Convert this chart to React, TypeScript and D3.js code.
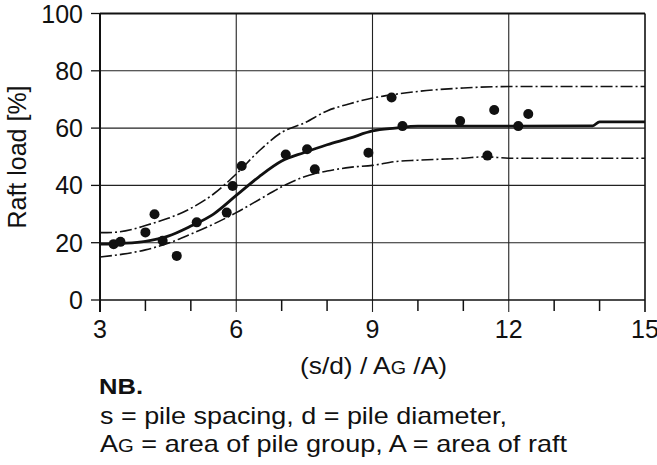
import React from 'react';
import * as d3 from 'd3';

// measured points (s/d)/(AG/A) vs raft load %
const pointX = [3.3, 3.45, 4.0, 4.2, 4.38, 4.69, 5.13, 5.79, 5.92, 6.12, 7.09, 7.56, 7.73, 8.91, 9.42, 9.66, 10.93, 11.53, 11.68, 12.21, 12.43];
const pointY = [19.5, 20.3, 23.6, 29.9, 20.7, 15.4, 27.1, 30.5, 39.8, 46.8, 50.8, 52.6, 45.6, 51.4, 70.7, 60.7, 62.5, 50.4, 66.3, 60.7, 64.9];

// mean curve
const meanX = [3, 3.5, 4, 4.5, 5, 5.5, 6, 6.5, 7, 7.5, 8, 8.5, 9, 9.5, 10, 12, 13.85, 14, 15];
const meanY = [19.5, 19.8, 20.5, 22.3, 25.8, 30, 36.5, 43, 48.5, 51.5, 54.2, 56.5, 59, 60, 60.7, 60.7, 60.8, 62.2, 62.2];

// upper bound
const upperX = [3, 3.3, 3.7, 4, 4.5, 5, 5.5, 6, 6.5, 7, 7.5, 8, 8.5, 9, 9.5, 10, 11, 12, 15];
const upperY = [23.5, 23.6, 24.6, 26, 28.5, 32, 37, 44, 52, 58.5, 61.8, 66, 68.5, 70.5, 71.8, 72.8, 74, 74.5, 74.5];

// lower bound
const lowerX = [3, 3.5, 4, 4.5, 5, 5.5, 6, 6.5, 7, 7.5, 8, 8.5, 9, 9.5, 10, 11, 11.5, 12, 15];
const lowerY = [15, 16, 17.5, 19.8, 23, 26.5, 30.5, 35, 39.5, 43, 45, 46.3, 47, 48.3, 48.8, 49.5, 50, 49.5, 49.5];

const xTicks = [3, 6, 9, 12, 15];
const xMinor = [4, 5, 7, 8, 10, 11, 13, 14];
const yTicks = [0, 20, 40, 60, 80, 100];

const W = 657;
const H = 465;
const font = 'Liberation Sans, Arial, sans-serif';

export default function App() {
  const x = d3.scaleLinear().domain([3, 15]).range([100, 645]);
  const y = d3.scaleLinear().domain([0, 100]).range([300, 13.5]);

  const line = d3
    .line<[number, number]>()
    .x((d) => x(d[0]))
    .y((d) => y(d[1]))
    .curve(d3.curveMonotoneX);

  const zip = (a: number[], b: number[]) => a.map((v, i) => [v, b[i]] as [number, number]);

  return (
    <svg width={W} height={H} style={{ position: 'absolute', left: 0, top: 0, background: '#fff' }}>
      {/* grid */}
      {yTicks.slice(1, -1).map((t) => (
        <line key={'gy' + t} x1={x(3)} x2={x(15)} y1={y(t)} y2={y(t)} stroke="#222" strokeWidth={1.1} />
      ))}
      {xTicks.slice(1, -1).map((t) => (
        <line key={'gx' + t} x1={x(t)} x2={x(t)} y1={y(100)} y2={y(0) + 12} stroke="#222" strokeWidth={1.1} />
      ))}
      {/* frame */}
      <line x1={x(3)} x2={x(15)} y1={y(100)} y2={y(100)} stroke="#111" strokeWidth={2} />
      <line x1={x(15)} x2={x(15)} y1={y(100)} y2={y(0) + 12} stroke="#111" strokeWidth={1.6} />
      <line x1={x(3)} x2={x(3)} y1={y(100)} y2={y(0) + 12} stroke="#111" strokeWidth={2} />
      <line x1={x(3)} x2={x(15)} y1={y(0)} y2={y(0)} stroke="#111" strokeWidth={1.6} />
      {/* ticks */}
      {yTicks.map((t) => (
        <g key={'yt' + t}>
          <line x1={x(3) - 9} x2={x(3)} y1={y(t)} y2={y(t)} stroke="#111" strokeWidth={1.3} />
          <text x={83} y={y(t) + 9} textAnchor="end" fontSize={25} fontFamily={font} fill="#111">
            {t}
          </text>
        </g>
      ))}
      {xMinor.map((t) => (
        <line key={'xm' + t} x1={x(t)} x2={x(t)} y1={y(0)} y2={y(0) + 11} stroke="#111" strokeWidth={1.5} />
      ))}
      {xTicks.map((t) => (
        <text key={'xt' + t} x={x(t)} y={338} textAnchor="middle" fontSize={25} fontFamily={font} fill="#111">
          {t}
        </text>
      ))}
      {/* curves */}
      <path d={line(zip(upperX, upperY)) || ''} fill="none" stroke="#111" strokeWidth={1.6} strokeDasharray="12,3,2,3" />
      <path d={line(zip(lowerX, lowerY)) || ''} fill="none" stroke="#111" strokeWidth={1.6} strokeDasharray="12,3,2,3" />
      <path d={line(zip(meanX, meanY)) || ''} fill="none" stroke="#111" strokeWidth={2.8} />
      {/* points */}
      {pointX.map((px, i) => (
        <circle key={'p' + i} cx={x(px)} cy={y(pointY[i])} r={5} fill="#111" />
      ))}
      {/* labels */}
      <text transform="translate(26,157) rotate(-90)" textAnchor="middle" fontSize={25} fontFamily={font} fill="#111">
        Raft load [%]
      </text>
      <text x={300} y={374} textLength={147} lengthAdjust="spacingAndGlyphs" fontSize={24} fontFamily={font} fill="#111">
        (s/d) / A<tspan fontSize={18}>G</tspan> /A)
      </text>
      <text x={99} y={394} textLength={44} lengthAdjust="spacingAndGlyphs" fontSize={22} fontWeight="bold" fontFamily={font} fill="#111">
        NB.
      </text>
      <text x={100} y={424} textLength={407} lengthAdjust="spacingAndGlyphs" fontSize={24} fontFamily={font} fill="#111">
        s = pile spacing, d = pile diameter,
      </text>
      <text x={100} y={452} textLength={467} lengthAdjust="spacingAndGlyphs" fontSize={24} fontFamily={font} fill="#111">
        A<tspan fontSize={18}>G</tspan> = area of pile group, A = area of raft
      </text>
    </svg>
  );
}
